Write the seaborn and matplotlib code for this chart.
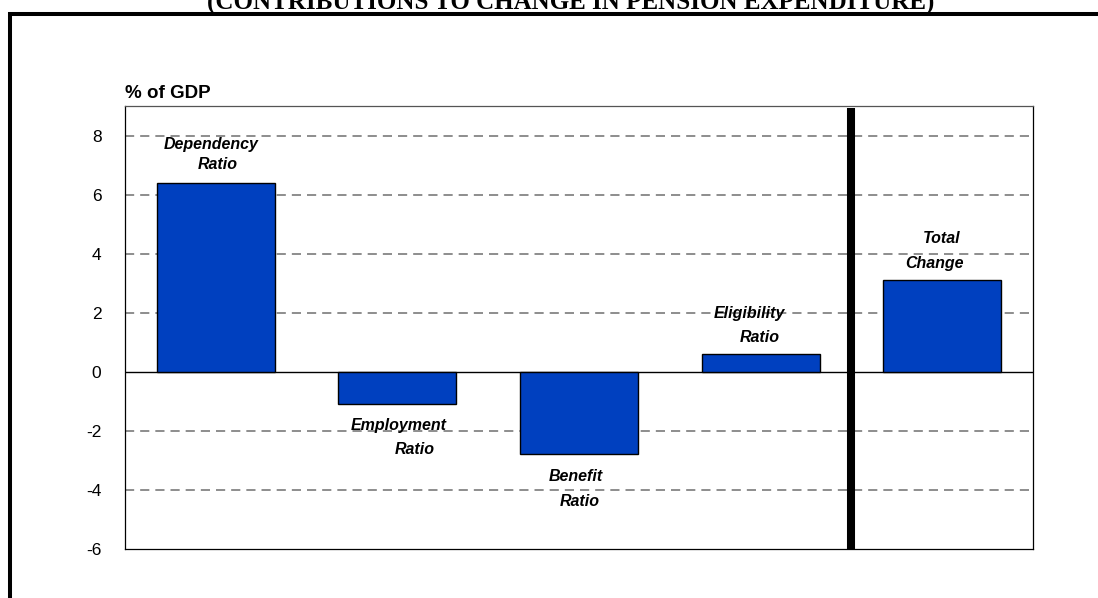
import matplotlib
matplotlib.use("Agg")
import matplotlib.pyplot as plt
import matplotlib.patches as mpatches
import seaborn as sns
import pandas as pd

# ---- data ----
categories = ["Dependency Ratio", "Employment Ratio", "Benefit Ratio", "Eligibility Ratio", "Total Change"]
values = [6.4, -1.1, -2.8, 0.6, 3.1]
label_lines = [["Dependency", "Ratio"], ["Employment", "Ratio"], ["Benefit", "Ratio"],
               ["Eligibility", "Ratio"], ["Total", "Change"]]
y_ticks = [-6, -4, -2, 0, 2, 4, 6, 8]
title_text = "(CONTRIBUTIONS TO CHANGE IN PENSION EXPENDITURE)"
y_label = "% of GDP"

# ---- style ----
# per-label pixel offsets (dx, dy) of each line relative to bar centre / bar end
label_offsets = [[(-5, 38), (2, 18)],
                 [(1, -21), (17, -45)],
                 [(-3, -22), (1, -47)],
                 [(-11, 41), (-1, 17)],
                 [(-1, 42), (-8, 17)]]
bar_color = "#0040BF"

sns.set_theme(style="white")
plt.rcParams["font.family"] = ["Liberation Sans", "DejaVu Sans"]
plt.rcParams["text.color"] = "black"
plt.rcParams["ytick.color"] = "black"
plt.rcParams["xtick.color"] = "black"
plt.rcParams["axes.labelcolor"] = "black"

fig = plt.figure(figsize=(10.98, 5.98), dpi=100)
fig.patch.set_facecolor("white")
ax = fig.add_axes([125 / 1098, 1 - 549 / 598, 908 / 1098, 443 / 598])

df = pd.DataFrame({"cat": categories, "val": values})
sns.barplot(data=df, x="cat", y="val", color=bar_color, saturation=1, width=0.65,
            edgecolor="black", linewidth=1.0, ax=ax, zorder=3)

ax.set_ylim(-6, 9)
ax.set_xlim(-0.5, len(categories) - 0.5)
ax.set_yticks(y_ticks)
ax.set_yticklabels([str(t) for t in y_ticks], fontsize=12.5, color="black")
ax.tick_params(axis="y", length=0, pad=17)
ax.set_xticks([])
ax.set_xlabel("")
ax.set_ylabel("")

# grid
for t in y_ticks[1:]:
    if t == 0:
        ax.axhline(0, color="black", lw=1.0, zorder=2)
    else:
        ax.axhline(t, color="#7a7a7a", lw=1.2, linestyle=(0, (5.5, 3.6)), zorder=1)

for s in ax.spines.values():
    s.set_visible(True)
    s.set_color("black")
    s.set_linewidth(0.9)
ax.spines["top"].set_color("#555555")

# thick separator
ax.plot([3.5, 3.5], [-6, 8.92], color="black", lw=5.8, solid_capstyle="butt", zorder=4, clip_on=False)

# labels
for i, (lines, v) in enumerate(zip(label_lines, values)):
    for line, (dx, dy) in zip(lines, label_offsets[i]):
        ax.annotate(line, xy=(i, v), xytext=(dx, dy), textcoords="offset pixels",
                    ha="center", va="center", fontsize=11.5, fontweight="bold",
                    fontstyle="italic", color="black", zorder=5)

# y-axis unit label
fig.text(125 / 1098, 1 - 93 / 598, y_label, ha="left", va="center",
         fontsize=13.5, fontweight="bold", color="black")

# title (partially cut at top, as in the reference)
fig.text(571 / 1098, 1 - 10 / 598, title_text, ha="center", va="baseline",
         fontsize=18, fontweight="bold", color="black",
         family=["Liberation Serif", "DejaVu Serif"])

# outer frame
frame = mpatches.Rectangle((10 / 1098, -0.2), 2.0, 1.2 - 14 / 598,
                           transform=fig.transFigure, fill=False, edgecolor="black",
                           linewidth=2.9, clip_on=False)
fig.patches.append(frame)

fig.savefig("out.png", dpi=100, facecolor="white")
